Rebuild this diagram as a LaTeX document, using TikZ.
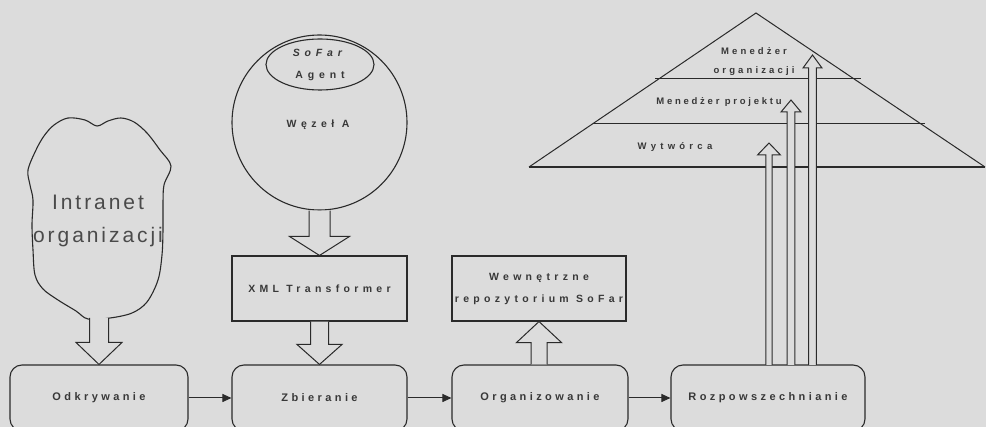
\documentclass[tikz,border=0pt]{standalone}
\usepackage{fontspec}
\setmainfont{Liberation Sans}
\usetikzlibrary{calc,arrows.meta,shapes.geometric}

\definecolor{paper}{HTML}{DCDCDC}
\definecolor{ink}{HTML}{2A2A2A}
\definecolor{labelink}{HTML}{383838}
\definecolor{softink}{HTML}{4A4A4A}

\tikzset{
  x=1pt, y=-1pt,
  stage/.style={draw=ink, line width=1.1pt, rounded corners=12pt,
    minimum height=66pt, inner sep=0pt, text=labelink,
    font=\fontsize{11}{13}\selectfont\bfseries\addfontfeature{LetterSpace=31}},
  plainbox/.style={draw=ink, line width=1.1pt, minimum height=65pt,
    inner sep=0pt, align=center, text=labelink,
    font=\fontsize{10.5}{22}\selectfont\bfseries\addfontfeature{LetterSpace=41}},
  level/.style={text=labelink, align=center, inner sep=0pt},
  levelfont/.style={font=\fontsize{9.5}{19}\selectfont\bfseries\addfontfeature{LetterSpace=#1}},
  outline/.style={draw=ink, line width=1pt},
  flow/.style={draw=ink, line width=1pt, -{Triangle[length=9pt,width=8pt]}},
  blk/.style={draw=ink, line width=1pt, fill=paper, line join=miter},
}

% Hollow block arrow: tail, tip, shaft half-width, head half-width, head length.
% The tail edge is left unstroked so the shaft opens into its source shape.
\newcommand\blockarrow[5]{%
  \coordinate (ba-base) at ($(#2)!#5!(#1)$);
  \path[blk] ($(#1)!#3!90:(#2)$) -- ($(ba-base)!#3!90:(#2)$)
    -- ($(ba-base)!#4!90:(#2)$) -- (#2) -- ($(ba-base)!#4!-90:(#2)$)
    -- ($(ba-base)!#3!-90:(#2)$) -- ($(#1)!#3!-90:(#2)$);
}

\begin{document}
\begin{tikzpicture}
  \fill[paper] (0,0) rectangle (986,427);
  \useasboundingbox (0,0) rectangle (986,427);
  \clip (0,0) rectangle (986,427);

  % ---- pyramid of roles ----
  \coordinate (apex) at (756,13);
  \coordinate (pl) at (529,167);
  \coordinate (pr) at (985,167);
  \draw[outline] (pl) -- (apex) -- (pr);
  \draw[outline, line width=1.4pt] (pl) -- (pr);
  \draw[outline] (593,124) -- (925,124);
  \draw[outline] (655,79) -- (861,79);
  \node[level, levelfont=33] (morg) at (754,61.5) {Menedżer\\organizacji};
  \node[level, levelfont=29] (mproj) at (719,102) {Menedżer projektu};
  \node[level, levelfont=45] (wyt) at (675,147) {Wytwórca};

  % ---- process stages ----
  \node[stage, minimum width=178pt] (odk) at (99,398) {Odkrywanie};
  \node[stage, minimum width=175pt] (zb) at (319.5,398) {Zbieranie};
  \node[stage, minimum width=176pt] (org) at (540,398) {Organizowanie};
  \node[stage, minimum width=194pt] (roz) at (768,398) {Rozpowszechnianie};
  \draw[flow] (odk) -- (zb);
  \draw[flow] (zb) -- (org);
  \draw[flow] (org) -- (roz);

  % ---- intranet cloud ----
  \draw[outline, line width=1.1pt] plot[smooth cycle, tension=0.55] coordinates {
    (28,170) (36,150) (44,136) (54,125) (68,118) (85,120) (97,126) (108,121)
    (121,118) (134,122) (147,133) (160,150) (171,166) (164,185) (163,205)
    (163,230) (162,255) (158,280) (147,302) (132,313) (110,318) (88,319)
    (76,311) (58,300) (43,289) (35,275) (33,250) (32,225) (33,200) (30,185)};
  \coordinate (cloudbase) at (97,318);
  \node[text=softink, align=center, inner sep=0pt,
    font=\fontsize{21}{33}\selectfont\addfontfeature{LetterSpace=14}]
    (intra) at (98,221) {Intranet\\organizacji};

  % ---- node with agent ----
  \node[draw=ink, line width=1.1pt, circle, minimum size=175pt, inner sep=0pt]
    (wezel) at (319.5,122.5) {};
  \node[text=labelink, inner sep=0pt,
    font=\fontsize{10.5}{12}\selectfont\bfseries\addfontfeature{LetterSpace=43}]
    (wezlabel) at (318,125) {Węzeł A};
  \node[draw=ink, line width=1.1pt, ellipse, minimum width=108pt,
    minimum height=51pt, inner sep=0pt, align=center, text=labelink,
    font=\fontsize{10.5}{22}\selectfont\bfseries\addfontfeature{LetterSpace=46}]
    (agent) at (320,64.5) {\textit{SoFar}\\Agent};

  % ---- transformer and repository ----
  \node[plainbox, minimum width=175pt] (xml) at (319.5,288.5) {XML Transformer};
  \node[plainbox, minimum width=174pt] (repo) at (539,288.5)
    {Wewnętrzne\\repozytorium SoFar};

  % ---- hollow block arrows ----
  \coordinate (t1) at (odk.north |- cloudbase);
  \blockarrow{t1}{odk.north}{9.5pt}{23pt}{22pt}
  \coordinate (t2) at (xml.north |- wezel.south);
  \blockarrow{t2}{xml.north}{10.5pt}{30pt}{19pt}
  \blockarrow{xml.south}{zb.north}{9pt}{22.5pt}{20pt}
  \coordinate (t3) at (repo.south |- org.north);
  \blockarrow{t3}{repo.south}{8pt}{22.5pt}{21pt}

  % ---- distribution arrows into the pyramid ----
  \coordinate (d1) at (769,365);   \coordinate (h1) at (769,143);
  \coordinate (d2) at (791,365);   \coordinate (h2) at (791,100);
  \coordinate (d3) at (812.5,365); \coordinate (h3) at (812.5,55);
  \blockarrow{d1}{h1}{3.2pt}{11.5pt}{12pt}
  \blockarrow{d2}{h2}{3.8pt}{10pt}{12pt}
  \blockarrow{d3}{h3}{3.8pt}{9.5pt}{13pt}
\end{tikzpicture}
\end{document}
